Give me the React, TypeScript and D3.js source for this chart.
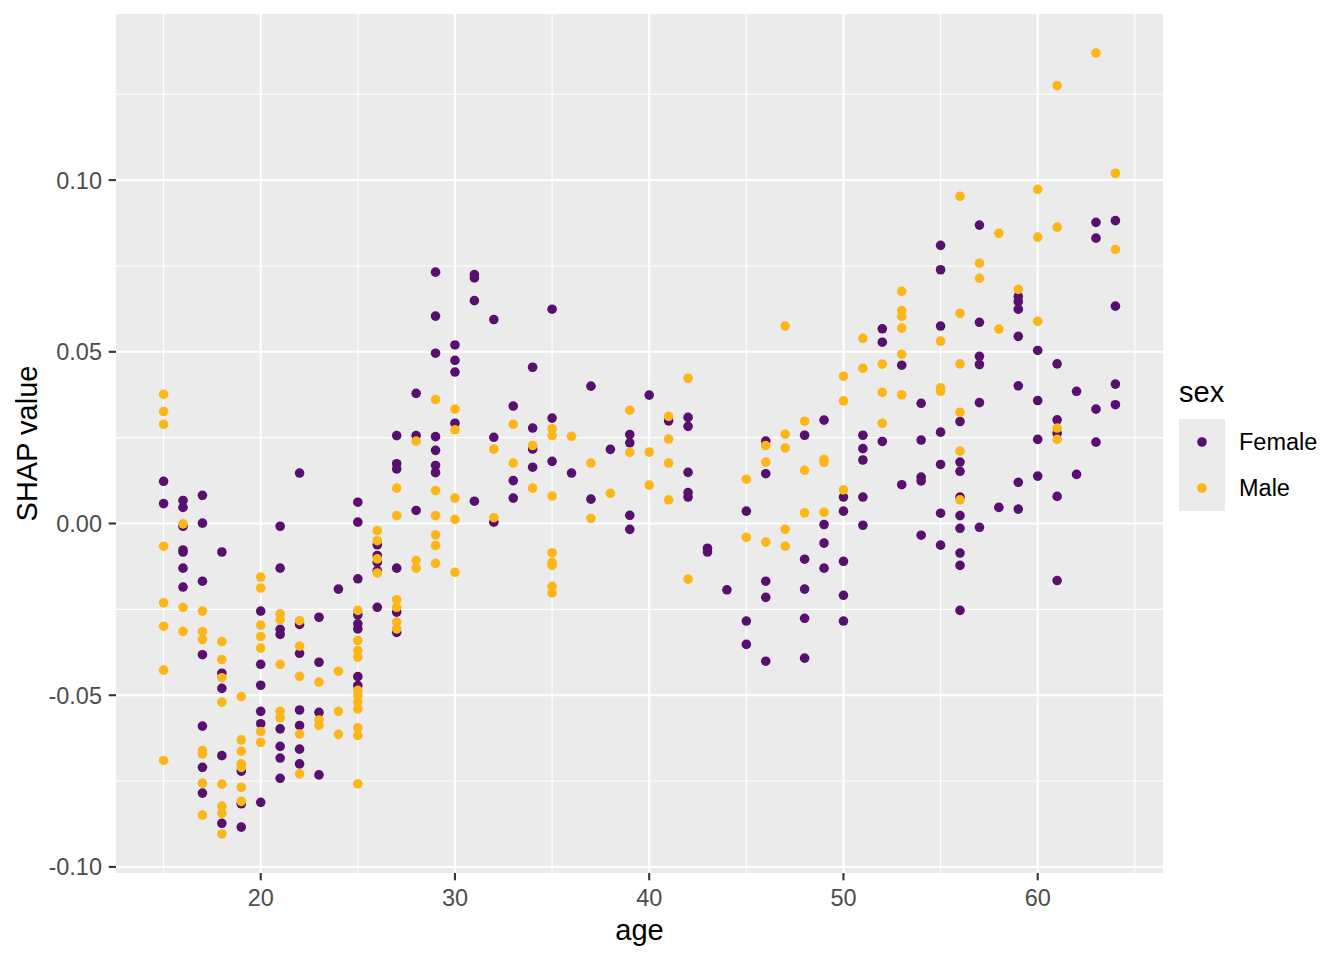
import { scaleLinear } from 'd3'

// SHAP values of "age", grouped by age
const female: [number, number[]][] = [
  [15, [0.0123, 0.0058]],
  [16, [0.0067, 0.0047, -0.0008, -0.0077, -0.0083, -0.013, -0.0185]],
  [17, [0.0082, 0.0001, -0.0168, -0.0382, -0.059, -0.071, -0.0785]],
  [18, [-0.0083, -0.0436, -0.048, -0.0676, -0.0873]],
  [19, [-0.0721, -0.0816, -0.0884]],
  [20, [-0.0255, -0.041, -0.0471, -0.0547, -0.0583, -0.0812]],
  [21, [-0.0008, -0.013, -0.0308, -0.0323, -0.0598, -0.0649, -0.0683, -0.0742]],
  [22, [0.0147, -0.0294, -0.0378, -0.0543, -0.0588, -0.0657, -0.07]],
  [23, [-0.0273, -0.0404, -0.055, -0.0732]],
  [24, [-0.0191]],
  [25, [0.0062, 0.0004, -0.0161, -0.0266, -0.0292, -0.0307, -0.0446, -0.0472]],
  [26, [-0.0062, -0.0093, -0.0113, -0.0137, -0.0244]],
  [27, [0.0256, 0.0174, 0.0159, -0.013, -0.0258, -0.0317]],
  [28, [0.0379, 0.0256, 0.0038]],
  [29, [0.0732, 0.0604, 0.0496, 0.0253, 0.0213, 0.0169, 0.0148]],
  [30, [0.052, 0.0475, 0.0441, 0.0292]],
  [31, [0.0725, 0.0715, 0.0649, 0.0065]],
  [32, [0.0594, 0.0251, 0.0004]],
  [33, [0.0342, 0.0125, 0.0074]],
  [34, [0.0455, 0.0278, 0.0217, 0.0164]],
  [35, [0.0624, 0.0307, 0.0181]],
  [36, [0.0147]],
  [37, [0.04, 0.0071]],
  [38, [0.0216]],
  [39, [0.0259, 0.0235, 0.0024, -0.0017]],
  [40, [0.0374]],
  [41, [0.0299]],
  [42, [0.0309, 0.0283, 0.0149, 0.009, 0.0077]],
  [43, [-0.0072, -0.0083]],
  [44, [-0.0193]],
  [45, [0.0036, -0.0284, -0.0352]],
  [46, [0.024, 0.0145, -0.0168, -0.0215, -0.0401]],
  [48, [0.0257, -0.0104, -0.0191, -0.0276, -0.0392]],
  [49, [0.0301, -0.0003, -0.0057, -0.013]],
  [50, [0.0077, 0.0036, -0.011, -0.0209, -0.0284]],
  [51, [0.0257, 0.0218, 0.0185, 0.0077, -0.0005]],
  [52, [0.0567, 0.0528, 0.0239]],
  [53, [0.0461, 0.0113]],
  [54, [0.035, 0.0243, 0.0135, 0.0124, -0.0034]],
  [55, [0.081, 0.0739, 0.0575, 0.0266, 0.0172, 0.003, -0.0063]],
  [56, [0.0297, 0.0179, 0.0152, 0.0077, 0.0023, -0.0014, -0.0086, -0.0122, -0.0253]],
  [57, [0.0869, 0.0586, 0.0487, 0.0463, 0.0352, -0.0011]],
  [58, [0.0047]],
  [59, [0.0661, 0.0646, 0.0624, 0.0545, 0.0401, 0.012, 0.0042]],
  [60, [0.0504, 0.0358, 0.0245, 0.0138]],
  [61, [0.0465, 0.0302, 0.0263, 0.0079, -0.0166]],
  [62, [0.0385, 0.0143]],
  [63, [0.0877, 0.0831, 0.0333, 0.0237]],
  [64, [0.0882, 0.0633, 0.0406, 0.0346]],
]

const male: [number, number[]][] = [
  [15, [0.0376, 0.0326, 0.0289, -0.0066, -0.0231, -0.0299, -0.0427, -0.069]],
  [16, [-0.0001, -0.0244, -0.0314]],
  [17, [-0.0255, -0.0315, -0.0338, -0.0661, -0.0671, -0.0756, -0.0849]],
  [18, [-0.0344, -0.0396, -0.0449, -0.052, -0.0759, -0.0823, -0.0844, -0.0904]],
  [19, [-0.0504, -0.063, -0.0663, -0.07, -0.071, -0.0768, -0.0809]],
  [20, [-0.0156, -0.0188, -0.0296, -0.0329, -0.0363, -0.0606, -0.0637]],
  [21, [-0.0263, -0.028, -0.041, -0.0547, -0.0566]],
  [22, [-0.0283, -0.0357, -0.0445, -0.0613, -0.0729]],
  [23, [-0.0462, -0.0572, -0.0588]],
  [24, [-0.043, -0.0547, -0.0614]],
  [25, [-0.0253, -0.0341, -0.037, -0.0389, -0.0486, -0.0501, -0.052, -0.054, -0.0595, -0.0617, -0.0758]],
  [26, [-0.0021, -0.005, -0.0103, -0.0144]],
  [27, [0.0103, 0.0023, -0.0222, -0.0244, -0.0287, -0.0307]],
  [28, [0.024, -0.0108, -0.013]],
  [29, [0.0361, 0.0096, 0.0023, -0.0033, -0.0064, -0.0116]],
  [30, [0.0333, 0.0273, 0.0074, 0.0012, -0.0142]],
  [32, [0.0217, 0.0017]],
  [33, [0.0289, 0.0176]],
  [34, [0.0227, 0.0103]],
  [35, [0.0276, 0.0256, 0.008, -0.0085, -0.0113, -0.0122, -0.0183, -0.0202]],
  [36, [0.0254]],
  [37, [0.0176, 0.0015]],
  [38, [0.0088]],
  [39, [0.033, 0.0207]],
  [40, [0.0208, 0.0112]],
  [41, [0.0312, 0.0246, 0.0176, 0.0069]],
  [42, [0.0423, -0.0162]],
  [45, [0.0129, -0.004]],
  [46, [0.0227, 0.0179, -0.0054]],
  [47, [0.0575, 0.026, 0.022, -0.0017, -0.0066]],
  [48, [0.0298, 0.0155, 0.0031]],
  [49, [0.0187, 0.0178, 0.0033]],
  [50, [0.0429, 0.0357, 0.0098]],
  [51, [0.0539, 0.0452]],
  [52, [0.0464, 0.0382, 0.0292]],
  [53, [0.0676, 0.062, 0.0603, 0.0569, 0.0493, 0.0375]],
  [55, [0.0531, 0.0395, 0.0385]],
  [56, [0.0953, 0.0612, 0.0465, 0.0324, 0.0211, 0.0069]],
  [57, [0.0758, 0.0714]],
  [58, [0.0845, 0.0566]],
  [59, [0.0682]],
  [60, [0.0973, 0.0834, 0.0589]],
  [61, [0.1275, 0.0863, 0.0278, 0.0245]],
  [63, [0.137]],
  [64, [0.102, 0.0798]],
]

const sexes = ['Female', 'Male']
const colors = ['#57106E', '#FBB61A']
const xTicks = [20, 30, 40, 50, 60]
const xMinor = [15, 25, 35, 45, 55, 65]
const yTicks = [-0.1, -0.05, 0, 0.05, 0.1]
const yMinor = [-0.075, -0.025, 0.025, 0.075, 0.125]

const width = 1344
const height = 960
const panel = { left: 116, right: 1163, top: 14, bottom: 873 }
const font = '"Liberation Sans", Arial, sans-serif'

const flatten = (rows: [number, number[]][]) =>
  rows.flatMap(([age, vals]) => vals.map((v) => ({ age, v })))

const series = [flatten(female), flatten(male)]
const all = series.flat()

// ggplot-style 5% expansion
const expand = (lo: number, hi: number) => {
  const pad = (hi - lo) * 0.05
  return [lo - pad, hi + pad]
}

const ages = all.map((d) => d.age)
const vals = all.map((d) => d.v)
const x = scaleLinear()
  .domain(expand(Math.min(...ages), Math.max(...ages)))
  .range([panel.left, panel.right])
const y = scaleLinear()
  .domain(expand(Math.min(...vals), Math.max(...vals)))
  .range([panel.bottom, panel.top])

const fmt = (v: number) => (Math.abs(v) < 1e-9 ? '0.00' : v.toFixed(2))

const App = () => {
  return (
    <svg
      width={width}
      height={height}
      viewBox={`0 0 ${width} ${height}`}
      style={{ position: 'absolute', left: 0, top: 0, background: '#fff' }}
      fontFamily={font}
    >
      <rect
        x={panel.left}
        y={panel.top}
        width={panel.right - panel.left}
        height={panel.bottom - panel.top}
        fill="#EBEBEB"
      />
      {yMinor.map((t) => (
        <line key={`ym${t}`} x1={panel.left} x2={panel.right} y1={y(t)} y2={y(t)} stroke="#fff" strokeWidth={1.1} />
      ))}
      {xMinor.map((t) => (
        <line key={`xm${t}`} x1={x(t)} x2={x(t)} y1={panel.top} y2={panel.bottom} stroke="#fff" strokeWidth={1.1} />
      ))}
      {yTicks.map((t) => (
        <line key={`y${t}`} x1={panel.left} x2={panel.right} y1={y(t)} y2={y(t)} stroke="#fff" strokeWidth={2.1} />
      ))}
      {xTicks.map((t) => (
        <line key={`x${t}`} x1={x(t)} x2={x(t)} y1={panel.top} y2={panel.bottom} stroke="#fff" strokeWidth={2.1} />
      ))}

      {series.map((pts, i) => (
        <g key={sexes[i]} fill={colors[i]}>
          {pts.map((d, j) => (
            <circle key={j} cx={x(d.age)} cy={y(d.v)} r={4.8} />
          ))}
        </g>
      ))}

      {/* axes */}
      {yTicks.map((t) => (
        <g key={`yt${t}`}>
          <line x1={panel.left - 7.3} x2={panel.left} y1={y(t)} y2={y(t)} stroke="#333" strokeWidth={2.1} />
          <text x={panel.left - 14} y={y(t)} dy="0.36em" textAnchor="end" fontSize={23.5} fill="#4D4D4D">
            {fmt(t)}
          </text>
        </g>
      ))}
      {xTicks.map((t) => (
        <g key={`xt${t}`}>
          <line x1={x(t)} x2={x(t)} y1={panel.bottom} y2={panel.bottom + 7.3} stroke="#333" strokeWidth={2.1} />
          <text x={x(t)} y={906} textAnchor="middle" fontSize={23.5} fill="#4D4D4D">
            {t}
          </text>
        </g>
      ))}
      <text x={(panel.left + panel.right) / 2} y={940} textAnchor="middle" fontSize={29} fill="#000">
        age
      </text>
      <text
        transform={`translate(37, ${(panel.top + panel.bottom) / 2}) rotate(-90)`}
        textAnchor="middle"
        fontSize={29}
        fill="#000"
      >
        SHAP value
      </text>

      {/* legend */}
      <text x={1179} y={402} fontSize={29} fill="#000">
        sex
      </text>
      {sexes.map((s, i) => (
        <g key={`lg${s}`} transform={`translate(1179, ${419 + i * 46})`}>
          <rect width={46} height={46} fill="#EBEBEB" />
          <circle cx={23} cy={23} r={4.8} fill={colors[i]} />
          <text x={60} y={23} dy="0.36em" fontSize={23.5} fill="#000">
            {s}
          </text>
        </g>
      ))}
    </svg>
  )
}

export default App
